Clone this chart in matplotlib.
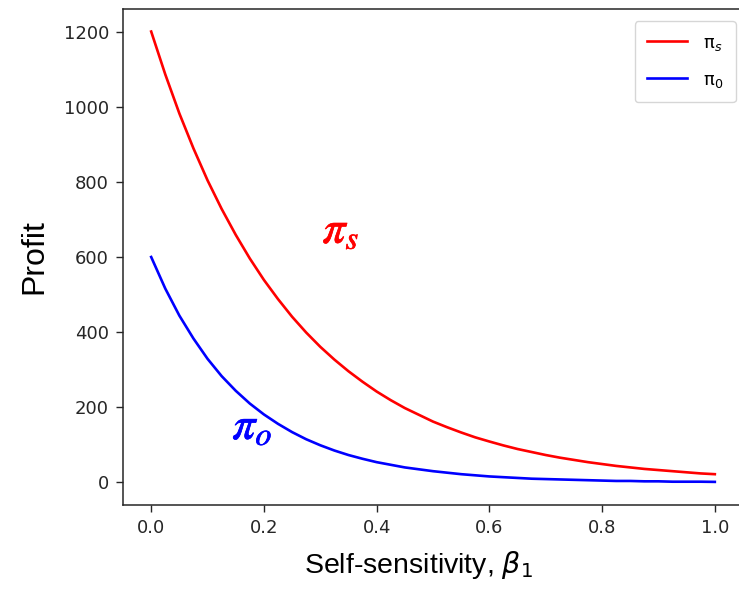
import matplotlib
matplotlib.use("Agg")
import matplotlib.pyplot as plt
import matplotlib.patheffects as pe
from matplotlib.font_manager import FontProperties

# Self-sensitivity values and the two profit curves
beta1 = [0.000, 0.025, 0.050, 0.075, 0.100, 0.125, 0.150, 0.175, 0.200, 0.225,
         0.250, 0.275, 0.300, 0.325, 0.350, 0.375, 0.400, 0.425, 0.450, 0.475,
         0.500, 0.525, 0.550, 0.575, 0.600, 0.625, 0.650, 0.675, 0.700, 0.725,
         0.750, 0.775, 0.800, 0.825, 0.850, 0.875, 0.900, 0.925, 0.950, 0.975,
         1.000]
profit_s = [1200, 1086, 982, 889, 804, 728, 659, 596, 539, 488,
            441, 399, 361, 327, 296, 268, 242, 219, 198, 180,
            162, 147, 133, 120, 109, 98.5, 89, 81, 73, 66,
            60, 54, 49, 44, 40, 36, 33, 30, 27, 24,
            22]
profit_o = [600, 516, 444, 383, 329, 283, 244, 210, 181, 156,
            134, 115, 99, 85, 73, 63, 54, 47, 40, 35,
            30, 26, 22, 19, 16, 14, 12, 10, 9, 8,
            7, 6, 5, 4, 4, 3, 3, 2, 2, 2,
            1.5]

x_ticks = [0.0, 0.2, 0.4, 0.6, 0.8, 1.0]
y_ticks = [0, 200, 400, 600, 800, 1000, 1200]

W, H = 739, 590
fig = plt.figure(figsize=(W / 100, H / 100), dpi=100)
ax = fig.add_axes([123 / W, 1 - 505 / H, (743 - 123) / W, (505 - 9) / H])

ax.plot(beta1, profit_s, color="red", lw=1.9, label=r"π$_s$")
ax.plot(beta1, profit_o, color="blue", lw=1.9, label=r"π$_0$")

ax.set_xlim(-0.05, 1.05)
ax.set_ylim(-60, 1260)
ax.set_xticks(x_ticks)
ax.set_yticks(y_ticks)
ax.set_xticklabels([f"{v:.1f}" for v in x_ticks])
ax.set_yticklabels([str(v) for v in y_ticks])

tick_fp = FontProperties(family="DejaVu Sans", size=13)
for lab in ax.get_xticklabels() + ax.get_yticklabels():
    lab.set_fontproperties(tick_fp)
    lab.set_color("#262626")
ax.tick_params(length=5, width=1.0, color="#262626", pad=5)

for sp in ax.spines.values():
    sp.set_color("#262626")
    sp.set_linewidth(1.1)

label_font = dict(family=["Liberation Sans", "DejaVu Sans"])
ax.set_xlabel(r"Self-sensitivity, $\beta_1$", fontsize=20.5, labelpad=9, **label_font)
ax.xaxis.label.set_x(0.477)
ax.set_ylabel("Profit", fontsize=23, labelpad=10, **label_font)

# Curve annotations, slightly heavier strokes
for xx, yy, txt, col in [(0.304, 638, r"$\pi_s$", "red"),
                         (0.144, 116, r"$\pi_o$", "blue")]:
    ax.text(xx, yy, txt, color=col, fontsize=33, math_fontfamily="stix",
            ha="left", va="baseline",
            path_effects=[pe.withStroke(linewidth=0.5, foreground=col)])

leg = ax.legend(loc="upper right", bbox_to_anchor=(0.9887, 0.9758),
                borderaxespad=0, fontsize=13, handlelength=2.2,
                labelspacing=1.0, borderpad=0.7, handletextpad=0.9)
leg.get_frame().set_edgecolor("#cccccc")

fig.savefig("out.png", dpi=100)
